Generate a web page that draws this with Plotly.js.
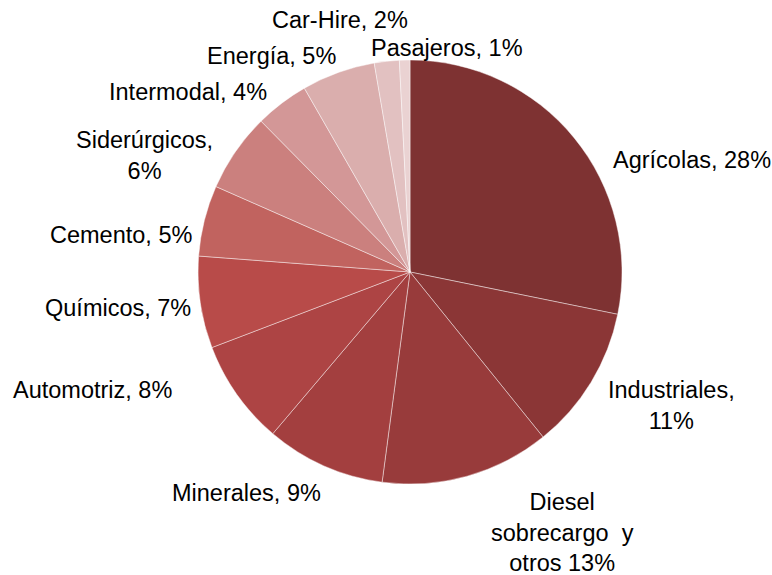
<!DOCTYPE html>
<html>
<head>
<meta charset="utf-8">
<script src="https://cdn.plot.ly/plotly-3.0.1.min.js"></script>
<style>html,body{margin:0;padding:0;background:#fff;}#chart{width:772px;height:575px;}</style>
</head>
<body>
<div id="chart"></div>
<script>
// ---- data ----
const categories = ['Agrícolas', 'Industriales', 'Diesel sobrecargo y otros', 'Minerales', 'Automotriz',
  'Químicos', 'Cemento', 'Siderúrgicos', 'Intermodal', 'Energía', 'Car-Hire', 'Pasajeros'];
const shares = [28.2, 11.0, 12.9, 9.1, 8.0, 7.0, 5.4, 6.0, 4.1, 5.6, 1.9, 0.8];
const pctLabels = ['28', '11', '13', '9', '8', '7', '5', '6', '4', '5', '2', '1'];

// ---- styles / layout config ----
const colors = ['#7E3232', '#8B3636', '#983B3B', '#A33F3F', '#AD4444', '#B84B49',
  '#C1635F', '#CB807E', '#D39797', '#DAAEAD', '#E2C1C1', '#EAD2D2'];
// label formats ({c} = category, {p} = percent label)
const labelFormats = ['{c}, {p}%', '{c},<br>{p}%', 'Diesel<br>sobrecargo  y<br>otros {p}%', '{c}, {p}%',
  '{c}, {p}%', '{c}, {p}%', '{c}, {p}%', '{c},<br>{p}%', '{c}, {p}%', '{c}, {p}%', '{c}, {p}%', '{c}, {p}%'];
// label centres in pixels (manually placed in the original)
const labelPos = [[692, 160], [671, 405], [562, 532], [246, 493], [92, 390], [118, 308],
  [121, 235], [144, 155], [188, 92], [271, 56], [340, 20], [447, 48]];

const W = 772, H = 575;
const cx = 410, cy = 272, R = 212;

const annotations = categories.map((c, i) => ({
  xref: 'paper', yref: 'paper',
  x: labelPos[i][0] / W, y: 1 - labelPos[i][1] / H,
  xanchor: 'center', yanchor: 'middle', align: 'center',
  showarrow: false,
  text: labelFormats[i].replace('{c}', c).replace('{p}', pctLabels[i]),
  font: {family: 'Liberation Sans, Arial, sans-serif', size: 23.5, color: '#000'}
}));

const trace = {
  type: 'pie',
  labels: categories,
  values: shares,
  sort: false,
  direction: 'clockwise',
  rotation: 0,
  textinfo: 'none',
  hoverinfo: 'none',
  marker: {colors: colors, line: {color: 'rgba(255,255,255,0.55)', width: 0.8}},
  domain: {x: [(cx - R) / W, (cx + R) / W], y: [1 - (cy + R) / H, 1 - (cy - R) / H]},
  showlegend: false
};

const layout = {
  width: W, height: H,
  margin: {l: 0, r: 0, t: 0, b: 0},
  paper_bgcolor: '#ffffff',
  plot_bgcolor: '#ffffff',
  showlegend: false,
  annotations: annotations
};

Plotly.newPlot('chart', [trace], layout, {displayModeBar: false, staticPlot: true});
</script>
</body>
</html>
